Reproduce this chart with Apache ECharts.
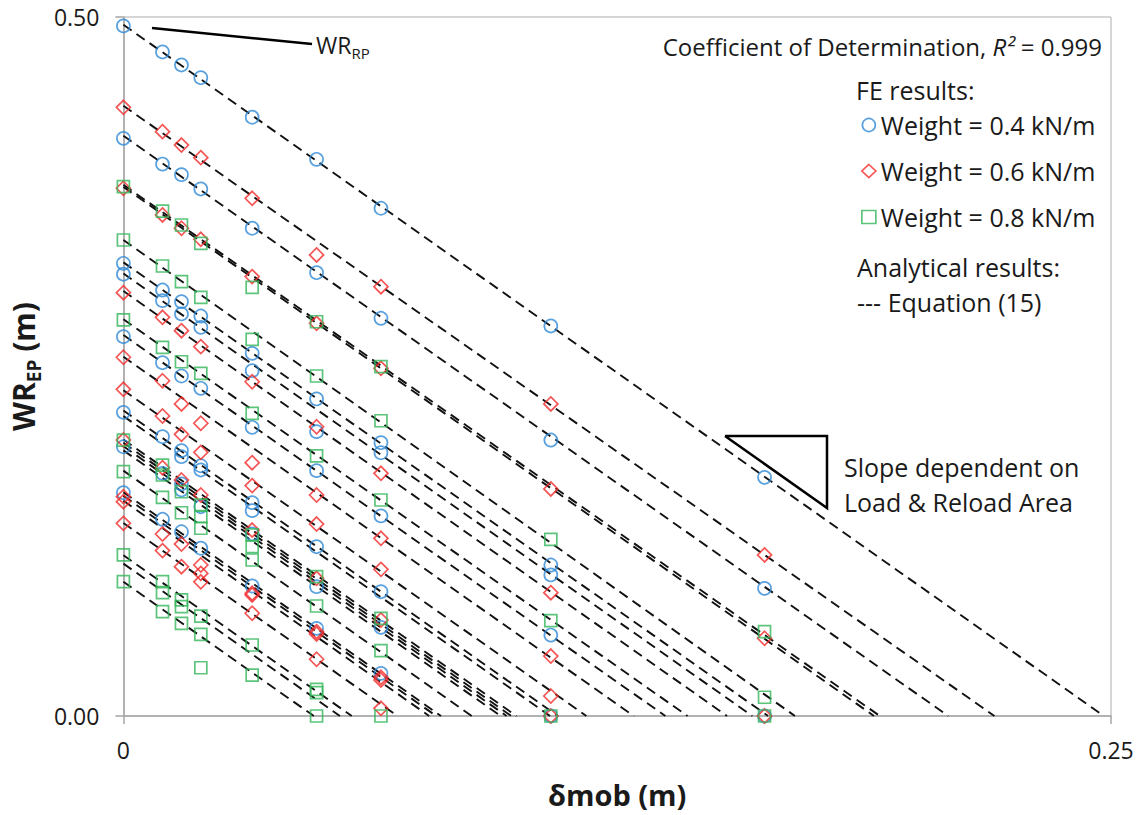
<!DOCTYPE html>
<html>
<head>
<meta charset="utf-8">
<script src="https://cdn.jsdelivr.net/npm/echarts/dist/echarts.min.js"></script>
<style>
html,body{margin:0;padding:0;background:#fff;}
#chart{width:1142px;height:815px;}
</style>
</head>
<body>
<div id="chart"></div>
<script>
// ---- data: [δmob (m), WR_EP (m)] ----
const blueCircles = [
  [0,0.4936],[0.0099,0.475],[0.0147,0.4657],[0.0196,0.4566],[0.0326,0.4283],[0.0489,0.3982],[0.0652,0.3632],[0.1082,0.279],[0.1623,0.1707],
  [0,0.4132],[0.0099,0.3948],[0.0147,0.3872],[0.0196,0.377],[0.0326,0.3489],[0.0489,0.3171],[0.0652,0.2845],[0.1082,0.1974],[0.1623,0.0913],
  [0,0.3238],[0.0099,0.3047],[0.0147,0.2964],[0.0196,0.2861],[0.0326,0.2594],[0.0489,0.2268],[0.0652,0.1955],[0.1082,0.108],[0.1623,0],
  [0,0.316],[0.0099,0.2971],[0.0147,0.2876],[0.0196,0.278],[0.0326,0.247],[0.0489,0.2034],[0.0652,0.1883],[0.1082,0.1009],
  [0,0.2713],[0.0099,0.2527],[0.0147,0.2432],[0.0196,0.2344],[0.0326,0.2065],[0.0489,0.1755],[0.0652,0.1431],[0.1082,0.0579],
  [0,0.2172],[0.0099,0.1998],[0.0147,0.1898],[0.0147,0.1855],[0.0196,0.179],[0.0196,0.176],[0.0326,0.1526],[0.0326,0.1469],[0.0489,0.1211],[0.0652,0.0889],[0.1082,0],
  [0,0.1926],[0.0099,0.1736],[0.0147,0.166],[0.0147,0.1617],[0.0196,0.1497],[0.0326,0.1302],[0.0489,0.0925],[0.0652,0.0634],
  [0,0.1597],[0.0099,0.1407],[0.0147,0.1318],[0.0196,0.12],[0.0326,0.093],[0.0489,0.0627],[0.0652,0.0305]
];
const redDiamonds = [
  [0,0.4354],[0.0099,0.418],[0.0147,0.4084],[0.0196,0.3994],[0.0326,0.3703],[0.0489,0.3298],[0.0652,0.3071],[0.1082,0.2232],[0.1623,0.1152],
  [0,0.3775],[0.0099,0.3584],[0.0147,0.3489],[0.0196,0.341],[0.0326,0.3143],[0.0489,0.2809],[0.0652,0.2487],[0.1082,0.1624],[0.1623,0.0556],
  [0,0.3028],[0.0099,0.2852],[0.0147,0.2756],[0.0196,0.2642],[0.0326,0.2391],[0.0489,0.2069],[0.0652,0.1736],[0.1082,0.0882],[0.1623,0],
  [0,0.2566],[0.0099,0.2398],[0.0147,0.2232],[0.0196,0.2094],[0.0326,0.1812],[0.0489,0.1581],[0.0652,0.1271],[0.1082,0.0429],
  [0,0.2337],[0.0099,0.2146],[0.0147,0.2015],[0.0196,0.1886],[0.0326,0.1648],[0.0489,0.1373],[0.0652,0.1049],[0.1082,0.0143],
  [0,0.1974],[0.0099,0.1776],[0.0147,0.1688],[0.0196,0.1581],[0.0326,0.133],[0.0489,0.0985],[0.0652,0.0687],[0.1082,0],
  [0,0.1569],[0,0.1533],[0.0099,0.1302],[0.0147,0.123],[0.0196,0.108],[0.0196,0.102],[0.0326,0.0878],[0.0326,0.0866],[0.0489,0.0603],[0.0489,0.0587],[0.0652,0.0277],[0.0652,0.0258],
  [0,0.1378],[0.0099,0.1183],[0.0147,0.1068],[0.0196,0.096],[0.0326,0.0735],[0.0489,0.0406],[0.0652,0.0055]
];
const greenSquares = [
  [0,0.3786],[0.0099,0.3612],[0.0147,0.3512],[0.0196,0.3381],[0.0326,0.3066],[0.0489,0.282],[0.0652,0.2499],[0.1623,0.0603],
  [0,0.3405],[0.0099,0.3219],[0.0147,0.3107],[0.0196,0.2995],[0.0326,0.2694],[0.0489,0.2432],[0.0652,0.2112],[0.1082,0.1264],[0.1623,0.0134],
  [0,0.2833],[0.0099,0.2637],[0.0147,0.2534],[0.0196,0.2451],[0.0326,0.2165],[0.0489,0.186],[0.0652,0.1545],[0.1082,0.0682],[0.1623,0],
  [0,0.1974],[0.0099,0.1795],[0.0099,0.1724],[0.0147,0.1604],[0.0196,0.1509],[0.0196,0.1426],[0.0326,0.1295],[0.0326,0.1211],[0.0489,0.0997],[0.0652,0.0699],[0.1082,0],
  [0,0.1748],[0.0099,0.1564],[0.0147,0.1454],[0.0196,0.1343],[0.0326,0.1116],[0.0489,0.0787],[0.0652,0.0467],
  [0,0.1152],[0.0099,0.0961],[0.0099,0.0882],[0.0147,0.083],[0.0147,0.0782],[0.0196,0.0715],[0.0326,0.0508],[0.0489,0.0191],[0.0489,0.0167],[0.0652,0],
  [0,0.0961],[0.0099,0.0746],[0.0147,0.0663],[0.0196,0.0584],[0.0326,0.0293],[0.0489,0],
  [0.0196,0.0345]
];
// analytical lines (Equation 15): WR_EP at δmob = 0, and δmob where WR_EP reaches 0
const lineStartWR = [0.4945,0.4365,0.4150,0.3800,0.3785,0.3405,0.3245,0.3165,0.3040,0.2838,0.2725,0.2570,0.2330,0.2185,0.2145,0.1978,0.1955,0.1900,0.1930,0.1755,0.1600,0.1575,0.1540,0.1380,0.1150,0.1090,0.0960];
const lineEndDelta = [0.2482,0.2205,0.2088,0.1915,0.1900,0.1700,0.1632,0.1592,0.1528,0.1428,0.1372,0.1292,0.1172,0.1100,0.1080,0.0995,0.0982,0.0955,0.0970,0.0882,0.0804,0.0792,0.0774,0.0694,0.0578,0.0548,0.0482];
const xTicks = [0, 0.25];
const yTicks = [0, 0.5];

const FONT = '"Open Sans", "Noto Sans", sans-serif';
const BLUE = '#2f8ad6', RED = '#f22a2a', GREEN = '#35b55a';
const TXT = '#1a1a1a';

const chart = echarts.init(document.getElementById('chart'), null, {renderer: 'svg'});

const lineSeries = lineStartWR.map((a, i) => ({
  type: 'line', name: 'Equation (15)', silent: true, symbol: 'none', z: 2,
  data: [[0, a], [lineEndDelta[i], 0]],
  lineStyle: {color: '#111', width: 1.9, type: [10, 6]},
  animation: false
}));

function scatter(name, data, symbol, size, color) {
  return {
    type: 'scatter', name, data, symbol, symbolSize: size, z: 3, animation: false,
    itemStyle: {color: 'rgba(0,0,0,0)', borderColor: color, borderWidth: 1.7}
  };
}

chart.setOption({
  animation: false,
  textStyle: {fontFamily: FONT},
  grid: {left: 120, right: 31, top: 17, bottom: 99, containLabel: false},
  xAxis: {
    type: 'value', min: xTicks[0], max: xTicks[1], interval: xTicks[1] - xTicks[0],
    name: 'δmob (m)', nameLocation: 'middle', nameGap: 64,
    nameTextStyle: {fontFamily: FONT, fontSize: 29, fontWeight: 'bold', color: TXT},
    axisLine: {show: true, lineStyle: {color: '#a6a6a6', width: 1.5}},
    axisTick: {show: true, length: 8, lineStyle: {color: '#a6a6a6', width: 1.5}},
    axisLabel: {fontSize: 23, color: TXT, margin: 22, formatter: v => (v === 0 ? '0' : v.toFixed(2))},
    splitLine: {show: true, lineStyle: {color: '#c8c8c8', width: 1.5}}
  },
  yAxis: {
    type: 'value', min: yTicks[0], max: yTicks[1], interval: yTicks[1] - yTicks[0],
    name: '{a|WR}{b|EP}{a| (m)}', nameLocation: 'middle', nameGap: 80,
    nameTextStyle: {
      fontFamily: FONT, fontWeight: 'bold', color: TXT,
      rich: {
        a: {fontFamily: FONT, fontSize: 30, fontWeight: 'bold', color: TXT, lineHeight: 40},
        b: {fontFamily: FONT, fontSize: 19, fontWeight: 'bold', color: TXT, lineHeight: 20, verticalAlign: 'bottom'}
      }
    },
    axisLine: {show: true, lineStyle: {color: '#a6a6a6', width: 1.5}},
    axisTick: {show: true, length: 8, lineStyle: {color: '#a6a6a6', width: 1.5}},
    axisLabel: {fontSize: 23, color: TXT, margin: 24, formatter: v => v.toFixed(2)},
    splitLine: {show: true, lineStyle: {color: '#c8c8c8', width: 1.5}}
  },
  legend: {
    orient: 'vertical', left: 856, top: 105, itemGap: 16, itemWidth: 14, itemHeight: 13,
    selectedMode: false,
    textStyle: {fontFamily: FONT, fontSize: 25, color: TXT, lineHeight: 30},
    data: [
      {name: 'Weight = 0.4 kN/m', icon: 'circle', itemStyle: {color: 'rgba(0,0,0,0)', borderColor: BLUE, borderWidth: 1.7}},
      {name: 'Weight = 0.6 kN/m', icon: 'diamond', itemStyle: {color: 'rgba(0,0,0,0)', borderColor: RED, borderWidth: 1.7}},
      {name: 'Weight = 0.8 kN/m', icon: 'rect', itemStyle: {color: 'rgba(0,0,0,0)', borderColor: GREEN, borderWidth: 1.7}}
    ]
  },
  graphic: [
    {type: 'line', shape: {x1: 152, y1: 28, x2: 312, y2: 44}, style: {stroke: '#000', lineWidth: 2.5}},
    {type: 'text', x: 316, y: 45, style: {
      text: '{a|WR}{b|RP}', verticalAlign: 'middle', textVerticalAlign: 'middle',
      rich: {a: {fontFamily: FONT, fontSize: 23, fill: TXT, lineHeight: 30}, b: {fontFamily: FONT, fontSize: 15, fill: TXT, lineHeight: 15, verticalAlign: 'bottom'}}
    }},
    {type: 'text', x: 1102, y: 46, style: {
      text: '{n|Coefficient of Determination, }{i|R²}{n| = 0.999}', align: 'right', textAlign: 'right', verticalAlign: 'middle', textVerticalAlign: 'middle',
      rich: {n: {fontFamily: FONT, fontSize: 24, fill: TXT}, i: {fontFamily: FONT, fontSize: 24, fontStyle: 'italic', fill: TXT}}
    }},
    {type: 'text', x: 856, y: 90, style: {text: 'FE results:', font: '25px ' + FONT, fill: TXT, verticalAlign: 'middle', textVerticalAlign: 'middle'}},
    {type: 'text', x: 857, y: 267, style: {text: 'Analytical results:', font: '25px ' + FONT, fill: TXT, verticalAlign: 'middle', textVerticalAlign: 'middle'}},
    {type: 'text', x: 857, y: 302, style: {text: '--- Equation (15)', font: '25px ' + FONT, fill: TXT, verticalAlign: 'middle', textVerticalAlign: 'middle'}},
    {type: 'polyline', shape: {points: [[725, 436], [827, 436], [827, 508], [725, 436]]}, style: {stroke: '#000', lineWidth: 2.5, fill: null}},
    {type: 'text', x: 844, y: 467, style: {text: 'Slope dependent on', font: '25px ' + FONT, fill: TXT, verticalAlign: 'middle', textVerticalAlign: 'middle'}},
    {type: 'text', x: 844, y: 502, style: {text: 'Load & Reload Area', font: '25px ' + FONT, fill: TXT, verticalAlign: 'middle', textVerticalAlign: 'middle'}}
  ],
  series: [
    ...lineSeries,
    scatter('Weight = 0.4 kN/m', blueCircles, 'circle', 13, BLUE),
    scatter('Weight = 0.6 kN/m', redDiamonds, 'diamond', 14, RED),
    scatter('Weight = 0.8 kN/m', greenSquares, 'rect', 12, GREEN)
  ]
});
</script>
</body>
</html>
